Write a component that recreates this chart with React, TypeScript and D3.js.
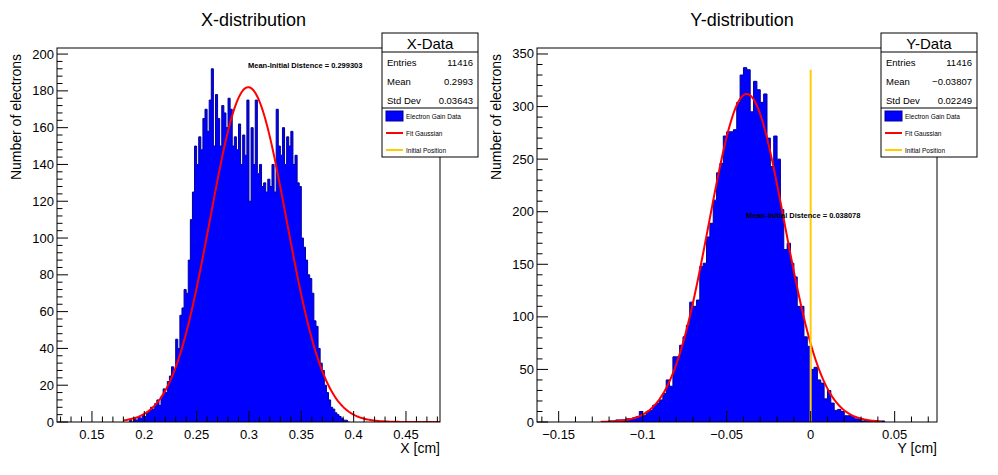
import React, { useEffect, useRef } from "react";
import * as d3 from "d3";

// X histogram: bins of 0.002 starting at 0.186
const xStart = 0.186;
const xBin = 0.002;
const xCounts = [
	1, 0, 2, 1, 3, 2, 4, 3, 5, 6, 8, 7, 10, 12, 9, 14, 18, 16, 22, 25,
	30, 28, 45, 40, 58, 62, 72, 70, 88, 110, 125, 150, 140, 155, 148,
	165, 170, 158, 175, 192, 150, 178, 165, 150, 172, 168, 160, 176, 170, 150,
	155, 148, 162, 140, 156, 145, 175, 120, 160, 140, 175, 135, 140, 128, 130,
	125, 132, 128, 140, 125, 170, 150, 145, 160, 140, 155, 150, 158, 140, 145,
	130, 128, 100, 95, 88, 80, 78, 70, 55, 52, 40, 32, 28, 20, 16,
	12, 8, 7, 5, 4, 3, 2, 1, 1, 0,
];

// Y histogram: bins of 0.002 starting at -0.120
const yStart = -0.12;
const yBin = 0.002;
const yCounts = [
	1, 1, 2, 2, 2, 3, 3, 4, 5, 10, 6, 10, 11, 16, 18, 21, 27, 40, 34, 62,
	62, 73, 81, 92, 114, 110, 116, 148, 151, 176, 189, 211, 237, 246, 272,
	276, 276, 278, 304, 330, 337, 335, 295, 324, 316, 304, 312, 270, 243, 272,
	250, 202, 164, 170, 151, 138, 110, 110, 81, 72, 50, 52, 40, 37, 22,
	30, 18, 11, 12, 10, 6, 6, 5, 3, 3, 1, 2, 1, 0, 1, 0, 1,
];

const xFit = { mean: 0.2993, sigma: 0.03643, amp: 182, from: 0.18, to: 0.4825 };
const yFit = { mean: -0.03807, sigma: 0.02249, amp: 312, from: -0.125, to: 0.042 };

const xStats = [["Entries", "11416"], ["Mean", "0.2993"], ["Std Dev", "0.03643"]];
const yStats = [["Entries", "11416"], ["Mean", "\u22120.03807"], ["Std Dev", "0.02249"]];
const legendItems = ["Electron Gain Data", "Fit Gaussian", "Initial Position"];

const FONT = "Liberation Sans, Arial, sans-serif";

type Panel = {
	title: string;
	xLabel: string;
	statTitle: string;
	stats: string[][];
	start: number;
	bin: number;
	counts: number[];
	fit: typeof xFit;
	xDomain: [number, number];
	yMax: number;
	yMajor: number;
	xTicks: number[];
	frameLeft: number;
	frameRight: number;
	note: string;
	noteX: number;
	noteY: number;
	initialPos: number;
	initialTop: number;
	boxLeft: number;
};

const panels: Panel[] = [
	{
		title: "X-distribution", xLabel: "X [cm]", statTitle: "X-Data", stats: xStats,
		start: xStart, bin: xBin, counts: xCounts, fit: xFit,
		xDomain: [0.1166, 0.4825], yMax: 203.3, yMajor: 20,
		xTicks: [0.15, 0.2, 0.25, 0.3, 0.35, 0.4, 0.45],
		frameLeft: 57, frameRight: 440,
		note: "Mean-Initial Distence = 0.299303", noteX: 248, noteY: 68,
		initialPos: 0, initialTop: 335, boxLeft: 382,
	},
	{
		title: "Y-distribution", xLabel: "Y [cm]", statTitle: "Y-Data", stats: yStats,
		start: yStart, bin: yBin, counts: yCounts, fit: yFit,
		xDomain: [-0.1629, 0.0752], yMax: 355.7, yMajor: 50,
		xTicks: [-0.15, -0.1, -0.05, 0, 0.05],
		frameLeft: 537, frameRight: 937,
		note: "Mean-Initial Distence = 0.038078", noteX: 746, noteY: 218,
		initialPos: 0, initialTop: 335, boxLeft: 881,
	},
];

const fmt = (v: number) => {
	if (Math.abs(v) < 1e-9) return "0";
	const s = String(+v.toFixed(3));
	return s.replace(/^-/, "\u2212");
};

const App: React.FC = () => {
	const ref = useRef<SVGSVGElement | null>(null);

	useEffect(() => {
		if (!ref.current) return;
		const svg = d3.select(ref.current);
		const top = 48;
		const bottom = 422;

		panels.forEach((p, pi) => {
			const g = svg.append("g");
			const x = d3.scaleLinear().domain(p.xDomain).range([p.frameLeft, p.frameRight]);
			const y = d3.scaleLinear().domain([0, p.yMax]).range([bottom, top]);
			const clipId = `clip${pi}`;
			svg.append("clipPath").attr("id", clipId).append("rect")
				.attr("x", p.frameLeft).attr("y", top)
				.attr("width", p.frameRight - p.frameLeft).attr("height", bottom - top);

			// histogram step path
			const pts: [number, number][] = [[x(p.start), y(0)]];
			p.counts.forEach((c, i) => {
				const x0 = p.start + i * p.bin;
				pts.push([x(x0), y(c)], [x(x0 + p.bin), y(c)]);
			});
			pts.push([x(p.start + p.counts.length * p.bin), y(0)]);
			g.append("path").attr("clip-path", `url(#${clipId})`)
				.attr("d", d3.line()(pts))
				.attr("fill", "#0000ff").attr("stroke", "#000099").attr("stroke-width", 1);

			// fitted gaussian
			const fx = d3.range(p.fit.from, p.fit.to, (p.fit.to - p.fit.from) / 300).concat([p.fit.to]);
			const gauss = (v: number) =>
				p.fit.amp * Math.exp(-0.5 * ((v - p.fit.mean) / p.fit.sigma) ** 2);
			g.append("path").attr("clip-path", `url(#${clipId})`)
				.attr("d", d3.line<number>().x((v) => x(v)).y((v) => y(gauss(v)))(fx))
				.attr("fill", "none").attr("stroke", "#ff0000").attr("stroke-width", 2);

			// initial position line
			if (p.initialPos >= p.xDomain[0]) {
				g.append("line")
					.attr("x1", x(p.initialPos)).attr("x2", x(p.initialPos))
					.attr("y1", y(0)).attr("y2", y(p.initialTop))
					.attr("stroke", "#ffcc00").attr("stroke-width", 2);
			}

			g.append("text").attr("x", p.noteX).attr("y", p.noteY)
				.attr("font-family", FONT).attr("font-size", 7.5).attr("font-weight", "bold")
				.text(p.note);

			// frame
			g.append("rect").attr("x", p.frameLeft).attr("y", top)
				.attr("width", p.frameRight - p.frameLeft).attr("height", bottom - top)
				.attr("fill", "none").attr("stroke", "#000");

			// x ticks
			const minorX = d3.range(Math.ceil(p.xDomain[0] / 0.01), Math.floor(p.xDomain[1] / 0.01) + 1)
				.map((k) => k * 0.01);
			minorX.forEach((v) => {
				const major = p.xTicks.some((t) => Math.abs(t - v) < 1e-6);
				g.append("line").attr("x1", x(v)).attr("x2", x(v))
					.attr("y1", bottom).attr("y2", bottom - (major ? 11 : 5.5)).attr("stroke", "#000");
			});
			p.xTicks.forEach((v) => {
				g.append("text").attr("x", x(v)).attr("y", bottom + 17)
					.attr("text-anchor", "middle").attr("font-family", FONT).attr("font-size", 13)
					.text(fmt(v));
			});

			// y ticks
			const minorStep = p.yMajor / 5;
			d3.range(0, p.yMax, minorStep).forEach((v, k) => {
				const major = k % 5 === 0;
				g.append("line").attr("x1", p.frameLeft).attr("x2", p.frameLeft + (major ? 11 : 5.5))
					.attr("y1", y(v)).attr("y2", y(v)).attr("stroke", "#000");
				if (major) {
					g.append("text").attr("x", p.frameLeft - 3).attr("y", y(v) + 4.5)
						.attr("text-anchor", "end").attr("font-family", FONT).attr("font-size", 13)
						.text(String(Math.round(v)));
				}
			});

			// labels
			g.append("text").attr("x", (p.frameLeft + p.frameRight) / 2 + 5).attr("y", 26)
				.attr("text-anchor", "middle").attr("font-family", FONT).attr("font-size", 18)
				.text(p.title);
			g.append("text").attr("x", p.frameRight).attr("y", 453)
				.attr("text-anchor", "end").attr("font-family", FONT).attr("font-size", 14)
				.text(p.xLabel);
			g.append("text")
				.attr("transform", `translate(${p.frameLeft - 36},${top + 6}) rotate(-90)`)
				.attr("text-anchor", "end").attr("font-family", FONT).attr("font-size", 14)
				.text("Number of electrons");

			// stats + legend box
			const bx = p.boxLeft;
			const bw = 96;
			const box = g.append("g");
			box.append("rect").attr("x", bx).attr("y", 33).attr("width", bw).attr("height", 124)
				.attr("fill", "#fff").attr("stroke", "#000");
			box.append("line").attr("x1", bx).attr("x2", bx + bw).attr("y1", 52).attr("y2", 52).attr("stroke", "#000");
			box.append("line").attr("x1", bx).attr("x2", bx + bw).attr("y1", 108).attr("y2", 108).attr("stroke", "#000");
			box.append("text").attr("x", bx + bw / 2).attr("y", 49).attr("text-anchor", "middle")
				.attr("font-family", FONT).attr("font-size", 15).text(p.statTitle);
			p.stats.forEach((s, i) => {
				const yy = 66 + i * 19;
				box.append("text").attr("x", bx + 5).attr("y", yy).attr("font-family", FONT)
					.attr("font-size", 9.5).text(s[0]);
				box.append("text").attr("x", bx + bw - 5).attr("y", yy).attr("text-anchor", "end")
					.attr("font-family", FONT).attr("font-size", 9.5).text(s[1]);
			});
			legendItems.forEach((name, i) => {
				const yy = 116 + i * 17;
				if (i === 0) {
					box.append("rect").attr("x", bx + 4).attr("y", yy - 5).attr("width", 17).attr("height", 10)
						.attr("fill", "#0000ff").attr("stroke", "#000099");
				} else {
					box.append("line").attr("x1", bx + 4).attr("x2", bx + 21).attr("y1", yy).attr("y2", yy)
						.attr("stroke", i === 1 ? "#ff0000" : "#ffcc00").attr("stroke-width", 2);
				}
				box.append("text").attr("x", bx + 24).attr("y", yy + 2.5).attr("font-family", FONT)
					.attr("font-size", 6.5).text(name);
			});
		});

		return () => {
			svg.selectAll("*").remove();
		};
	}, []);

	return (
		<svg ref={ref} width={998} height={475}
			style={{ position: "absolute", left: 0, top: 0, background: "#fff" }} />
	);
};

export default App;
